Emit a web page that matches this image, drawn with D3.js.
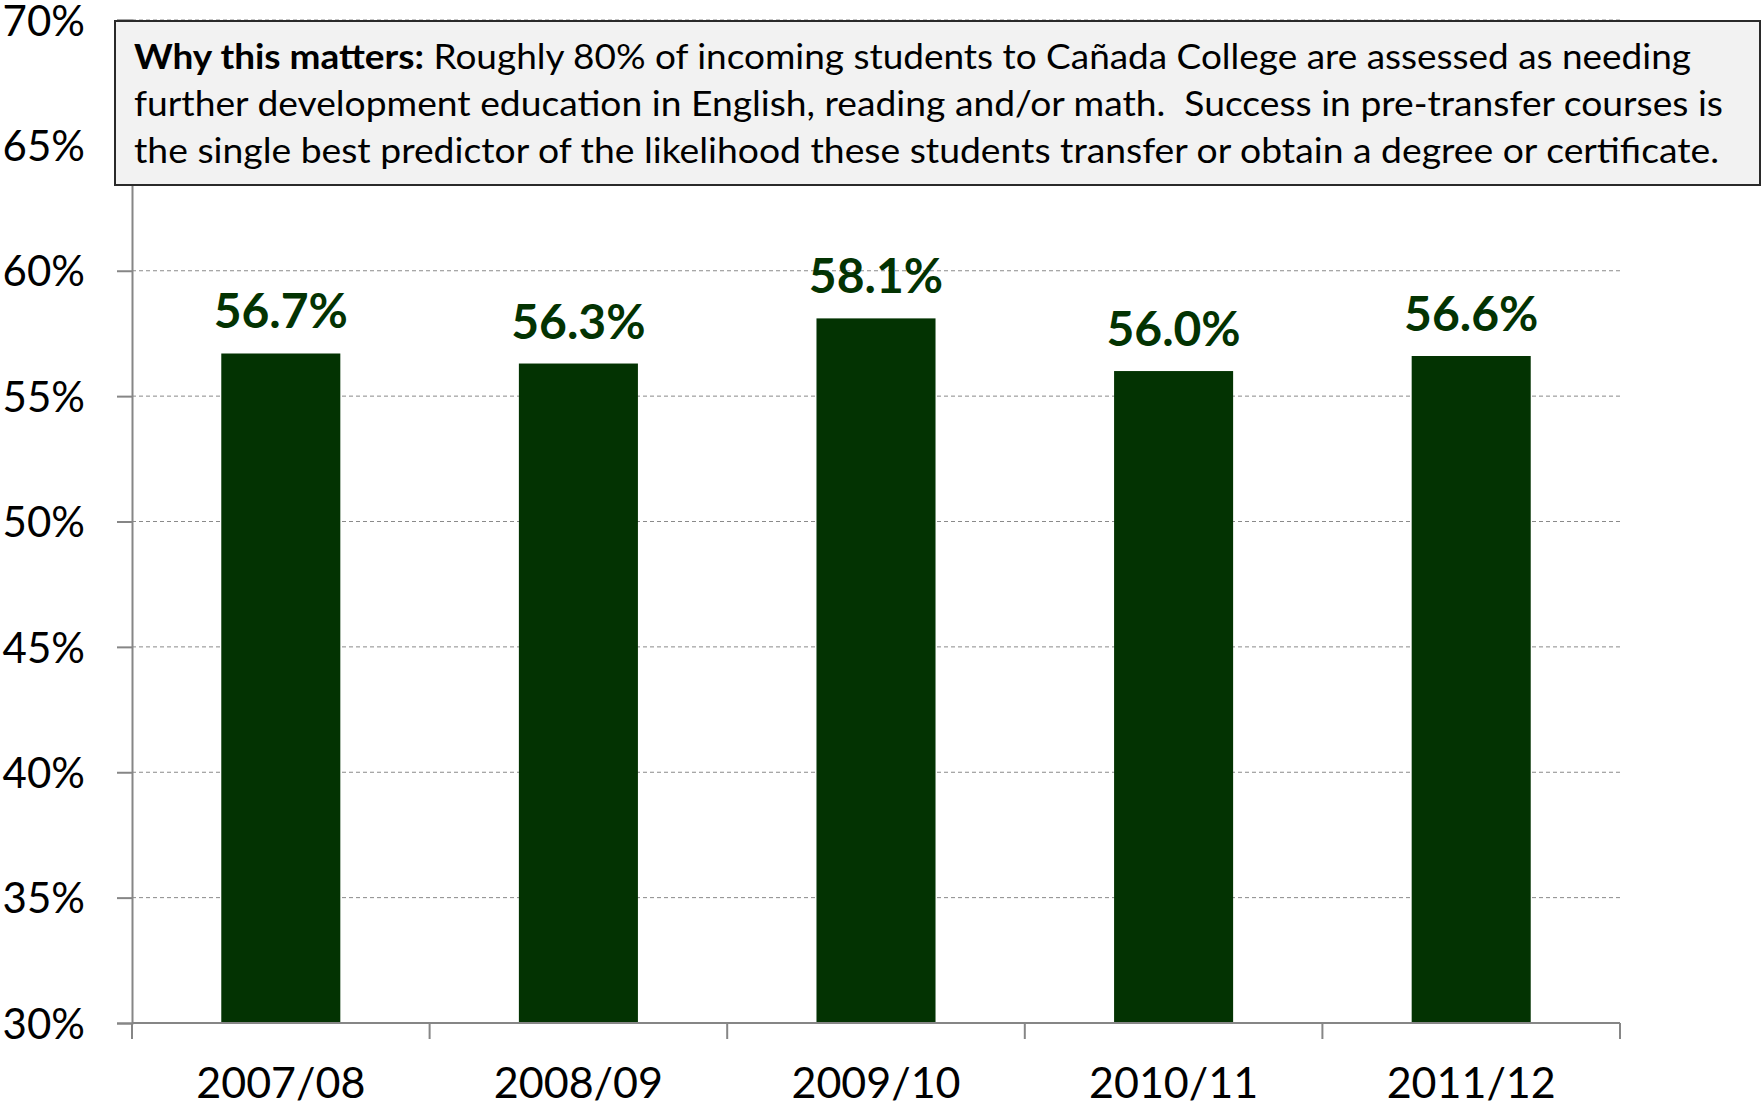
<!DOCTYPE html>
<html>
<head>
<meta charset="utf-8">
<script src="https://cdn.jsdelivr.net/npm/d3@7"></script>
<style>
  body { margin: 0; background: #fff; }
  svg { display: block; }
  text { font-family: Lato, "Open Sans", sans-serif; }
</style>
</head>
<body>
<svg id="chart"></svg>
<script>
//
// Data
//
var years = ['2007/08', '2008/09', '2009/10', '2010/11', '2011/12']
var rates = [56.7, 56.3, 58.1, 56.0, 56.6]
var yTicks = [30, 35, 40, 45, 50, 55, 60, 65, 70]
var noteLead = 'Why this matters:'
var noteLines = [
  ' Roughly 80% of incoming students to Cañada College are assessed as needing',
  'further development education in English, reading and/or math.  Success in pre-transfer courses is',
  'the single best predictor of the likelihood these students transfer or obtain a degree or certificate.'
]

//
// Config
//
var width = 1764, height = 1105
var colorBar = '#033302'
var colorAxis = '#868686'
var colorGrid = '#8a8a8a'

var svg = d3.select('#chart').attr('width', width).attr('height', height)

var x = d3.scaleBand().domain(years).range([132, 1620]).paddingInner(0.6).paddingOuter(0.3)
var y = d3.scaleLinear().domain([30, 70]).range([1023, 20])

// gridlines
svg.append('g').selectAll('line')
  .data(yTicks.filter(function(d) { return d > 30 }))
  .enter().append('line')
    .attr('x1', 132).attr('x2', 1620)
    .attr('y1', function(d) { return y(d) }).attr('y2', function(d) { return y(d) })
    .attr('stroke', colorGrid).attr('stroke-width', 1)
    .attr('stroke-dasharray', '4,3')

// y axis
var yAxis = svg.append('g')
  .attr('transform', 'translate(132,0)')
  .call(d3.axisLeft(y).tickValues(yTicks).tickSize(15).tickPadding(32)
    .tickFormat(function(d) { return d + '%' }))
yAxis.select('.domain').attr('stroke', colorAxis).attr('stroke-width', 2)
yAxis.selectAll('.tick line').attr('stroke', colorAxis).attr('stroke-width', 2)
yAxis.selectAll('.tick text')
  .attr('font-family', 'Lato, sans-serif')
  .attr('font-size', 42).attr('fill', '#000')
  .attr('dy', '0.36em')

// bars
svg.append('g').selectAll('rect')
  .data(rates)
  .enter().append('rect')
    .attr('x', function(d, i) { return x(years[i]) })
    .attr('y', function(d) { return y(d) })
    .attr('width', x.bandwidth())
    .attr('height', function(d) { return y(30) - y(d) })
    .attr('fill', colorBar)

// value labels
svg.append('g').selectAll('text')
  .data(rates)
  .enter().append('text')
    .attr('x', function(d, i) { return x(years[i]) + x.bandwidth() / 2 })
    .attr('y', function(d) { return y(d) - 25 })
    .attr('text-anchor', 'middle')
    .attr('font-weight', 'bold')
    .attr('font-size', 48)
    .attr('fill', colorBar)
    .text(function(d) { return d.toFixed(1) + '%' })

// x axis
var x0 = x.range()[0]
svg.append('line')
  .attr('x1', x0).attr('x2', x.range()[1])
  .attr('y1', y(30)).attr('y2', y(30))
  .attr('stroke', colorAxis).attr('stroke-width', 2)
svg.append('g').selectAll('line')
  .data(d3.range(years.length + 1))
  .enter().append('line')
    .attr('x1', function(i) { return x0 + i * x.step() })
    .attr('x2', function(i) { return x0 + i * x.step() })
    .attr('y1', y(30)).attr('y2', y(30) + 16)
    .attr('stroke', colorAxis).attr('stroke-width', 2)
svg.append('g').selectAll('text')
  .data(years)
  .enter().append('text')
    .attr('x', function(d) { return x(d) + x.bandwidth() / 2 })
    .attr('y', 1098)
    .attr('text-anchor', 'middle')
    .attr('font-size', 43)
    .attr('fill', '#000')
    .text(function(d) { return d })

// note box
var note = svg.append('g')
note.append('rect')
  .attr('x', 115).attr('y', 21).attr('width', 1645).attr('height', 164)
  .attr('fill', '#f2f2f2').attr('stroke', '#2a2a2a').attr('stroke-width', 2)
var lineY = [69, 116, 163]
var lineW = [1557, 1589, 1585]
noteLines.forEach(function(line, i) {
  var t = note.append('text')
    .attr('x', 134).attr('y', lineY[i])
    .attr('font-size', 34).attr('fill', '#000')
    .attr('textLength', lineW[i]).attr('lengthAdjust', 'spacingAndGlyphs')
    .style('white-space', 'pre')
  if (i === 0) t.append('tspan').attr('font-weight', 'bold').text(noteLead)
  t.append('tspan').text(line)
})
</script>
</body>
</html>
